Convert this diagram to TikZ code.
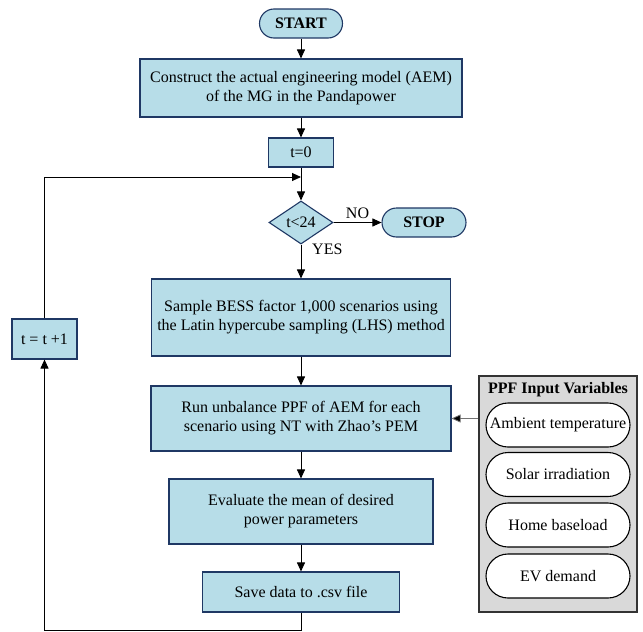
\documentclass[tikz,border=0pt]{standalone}
\usepackage{fontspec}
\setmainfont{Liberation Serif}
\usetikzlibrary{shapes.geometric,arrows.meta}
\definecolor{boxfill}{HTML}{B7DDE8}
\definecolor{boxline}{HTML}{1F3864}
\definecolor{groupfill}{HTML}{D9D9D9}
\tikzset{
  x=1pt, y=-1pt,
  every node/.style={font=\fontsize{16}{19}\selectfont, inner sep=0pt, align=center},
  procbox/.style={draw=boxline, fill=boxfill, line width=1.1pt},
  termbox/.style={procbox, rounded corners=14.5pt, font=\fontsize{16}{19}\selectfont\bfseries},
  decbox/.style={procbox, diamond, minimum width=64pt, minimum height=43pt},
  inbox/.style={draw=black, fill=white, line width=1.1pt, rounded corners=22pt, minimum width=144pt, minimum height=44pt},
  flow/.style={draw=black, line width=0.9pt, -{Triangle[length=9pt,width=8pt]}},
  feed/.style={draw=black!55, line width=0.8pt, -{Triangle[length=9pt,width=8pt,fill=black]}},
  lbl/.style={font=\fontsize{16}{19}\selectfont}
}
\begin{document}
\begin{tikzpicture}
\useasboundingbox (0,0) rectangle (643,632);

% main flow
\node[termbox, minimum width=83pt, minimum height=29pt] (start) at (301,23.5) {START};
\node[procbox, minimum width=322pt, minimum height=58pt] (aem) at (301,88)
  {Construct the actual engineering model (AEM)\\of the MG in the Pandapower};
\node[procbox, minimum width=65pt, minimum height=29pt] (t0) at (301,152.5) {t=0};
\node[decbox] (dec) at (301,222.5) {t<24};
\node[termbox, minimum width=84pt, minimum height=29pt] (stop) at (424,222.5) {STOP};
\node[procbox, minimum width=299pt, minimum height=77pt] (lhs) at (301,317.5)
  {Sample BESS factor 1,000 scenarios using\\the Latin hypercube sampling (LHS) method};
\node[procbox, minimum width=300pt, minimum height=65pt] (ppf) at (301,418.5)
  {Run unbalance PPF of AEM for each\\scenario using NT with Zhao’s PEM};
\node[procbox, minimum width=264pt, minimum height=65pt] (mean) at (301,511.5)
  {Evaluate the mean of desired\\power parameters};
\node[procbox, minimum width=197pt, minimum height=40pt] (save) at (301,592) {Save data to .csv file};
\node[procbox, minimum width=65pt, minimum height=40pt] (inc) at (44.5,339) {t = t +1};

% input variables panel
\node[draw=black!80, fill=groupfill, line width=1.1pt, minimum width=158pt, minimum height=236pt] (grp) at (558,494) {};
\node[font=\fontsize{16}{19}\selectfont\bfseries] (gtitle) at (558,390) {PPF Input Variables};
\node[inbox] (amb) at (558,425) {Ambient temperature};
\node[inbox] (sol) at (558,474.5) {Solar irradiation};
\node[inbox] (home) at (558,525) {Home baseload};
\node[inbox] (ev) at (558,576) {EV demand};

% connectors
\coordinate (join) at (301,177);
\coordinate (bl) at (301,630.5);
\coordinate (br) at (44.5,630.5);
\coordinate (tl) at (44.5,177);
\draw[flow] (start) -- (aem);
\draw[flow] (aem) -- (t0);
\draw[flow] (t0) -- (dec);
\draw[flow] (dec) -- node[lbl, above, yshift=3pt] (no) {NO} (stop);
\draw[flow] (dec) -- (lhs);
\node[lbl, anchor=west] (yes) at (312,249) {YES};
\draw[flow] (lhs) -- (ppf);
\draw[flow] (ppf) -- (mean);
\draw[flow] (mean) -- (save);
\draw[flow] (save.south) -- (bl) -- (br) -- (inc.south);
\draw[flow] (inc.north) -- (tl) -- (join);
\draw[feed] (grp.west |- ppf.east) -- (ppf.east);
\end{tikzpicture}
\end{document}
